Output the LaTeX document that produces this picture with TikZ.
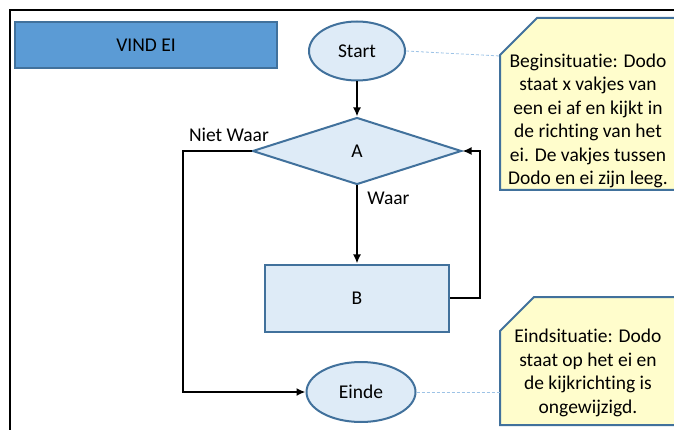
\documentclass[tikz,border=0pt]{standalone}
\usepackage{fontspec}
\setmainfont{Carlito}[Ligatures=NoCommon]
\usetikzlibrary{shapes,arrows.meta,calc,backgrounds}
\definecolor{rand}{RGB}{65,113,156}
\definecolor{licht}{RGB}{222,235,247}
\definecolor{titel}{RGB}{91,155,213}
\definecolor{notitie}{RGB}{255,253,204}
\definecolor{stippel}{RGB}{157,195,230}
\tikzstyle{term} = [ellipse, draw=rand, fill=licht, line width=2pt, inner sep=0pt]
\tikzstyle{decision} = [diamond, draw=rand, fill=licht, line width=2pt, inner sep=0pt,
    minimum width=209pt, minimum height=67pt]
\tikzstyle{block} = [rectangle, draw=rand, fill=licht, line width=2pt,
    minimum width=184pt, minimum height=67pt]
\tikzstyle{titlebox} = [rectangle, draw=rand, fill=titel, line width=2pt,
    minimum width=262pt, minimum height=46pt]
\tikzstyle{note} = [rectangle, align=center, inner sep=0pt, outer sep=0pt, minimum width=176pt]
\tikzstyle{noteframe} = [draw=rand, fill=notitie, line width=2pt]
\tikzstyle{line} = [draw, line width=2pt, -{Latex[length=9pt, width=8pt]}]
\tikzstyle{hint} = [draw=stippel, line width=0.8pt, dash pattern=on 3pt off 2pt]

\begin{document}
\begin{tikzpicture}[x=1pt, y=1pt, node distance=100pt, font=\fontsize{19.5}{23.5}\selectfont]
		\useasboundingbox (0,0) rectangle (674,-430);
		\draw [line width=2.5pt] (10,-440) -- (10,-10) -- (690,-10);

		\node [titlebox] (titel) at (146,-45) {VIND EI};
		\node [term, minimum width=96pt, minimum height=59pt] (start) at (357,-51) {Start};
		\node [decision, below of=start] (A) {A};
		\node [block, node distance=147pt, below of=A] (B) {B};
		\node [term, minimum width=109pt, minimum height=60pt, node distance=94pt, below of=B, xshift=4pt] (einde) {Einde};

		% text height/depth measured from the last line
		\node [note, text height=167pt, text depth=5pt] (beginsit) at (588,-104)
			{Beginsituatie: Dodo\\staat x vakjes van\\een ei af en kijkt in\\de richting van het\\ei. De vakjes tussen\\Dodo en ei zijn leeg.};
		\node [note, text height=116pt, text depth=12pt] (eindsit) at (588,-361)
			{Eindsituatie: Dodo\\staat op het ei en\\de kijkrichting is\\ongewijzigd.};
		\begin{scope}[on background layer]
			\path [noteframe] (beginsit.south west) -- ($(beginsit.north west)+(0,-37)$)
				-- ($(beginsit.north west)+(37,0)$) -- (beginsit.north east) -- (beginsit.south east) -- cycle;
			\path [noteframe] (eindsit.south west) -- ($(eindsit.north west)+(0,-34)$)
				-- ($(eindsit.north west)+(34,0)$) -- (eindsit.north east) -- (eindsit.south east) -- cycle;
		\end{scope}

		\path [line] (start) -- node {} (A);
		\path [line] (A) -- node [pos=0.17, right=6pt] {Waar} (B);
		\path [line] (A) -- node [pos=0.33, above=5pt] {Niet Waar} ++(-174,0) |- (einde);
		\path [line] (B) -- ++(123,0) |- (A);

		\draw [hint] (start.east) -- ($(beginsit.west)+(0,48)$);
		\draw [hint] (einde.east) -- (einde.east -| eindsit.west);
	\end{tikzpicture}
\end{document}
